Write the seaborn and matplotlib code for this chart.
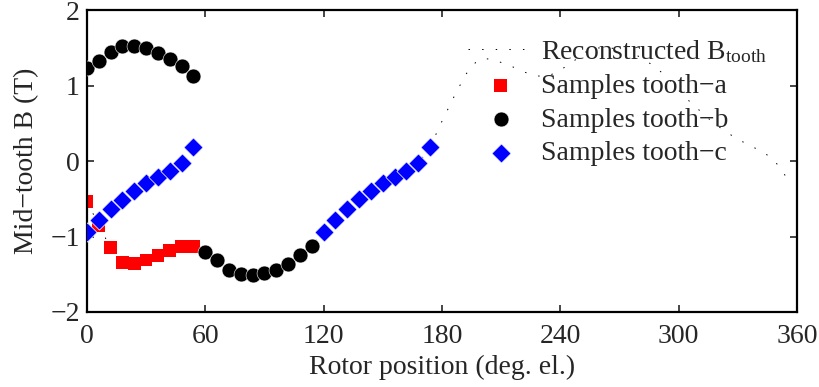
import numpy as np
import pandas as pd
import matplotlib
matplotlib.use("Agg")
import matplotlib.pyplot as plt
import seaborn as sns

# ---- data ----
pos_a = [0, 6, 12, 18, 24, 30, 36, 42, 48, 54]
val_a = [-0.53, -0.85, -1.15, -1.34, -1.36, -1.31, -1.25, -1.18, -1.13, -1.13]

pos_b = [0, 6, 12, 18, 24, 30, 36, 42, 48, 54,
         60, 66, 72, 78, 84, 90, 96, 102, 108, 114]
val_b = [1.23, 1.33, 1.45, 1.53, 1.53, 1.50, 1.44, 1.36, 1.26, 1.13,
         -1.21, -1.31, -1.44, -1.50, -1.51, -1.48, -1.44, -1.36, -1.25, -1.12]

pos_c = [0, 6, 12, 18, 24, 30, 36, 42, 48, 54,
         120, 126, 132, 138, 144, 150, 156, 162, 168, 174]
val_c = [-0.94, -0.78, -0.64, -0.51, -0.40, -0.29, -0.21, -0.13, -0.03, 0.19,
         -0.94, -0.78, -0.64, -0.50, -0.39, -0.29, -0.21, -0.13, -0.03, 0.19]

pos_rec = [0, 6, 12, 18, 24, 30, 36, 42, 48, 54,
           60, 66, 72, 78, 84, 90, 96, 102, 108, 114,
           120, 126, 132, 138, 144, 150, 156, 162, 168, 174,
           180, 186, 192, 198, 204, 210, 216, 222, 228, 234,
           240, 246, 252, 258, 264, 270, 276, 282, 288, 294,
           300, 306, 312, 318, 324, 330, 336, 342, 348, 354]
val_rec = [-0.53, -0.85, -1.15, -1.34, -1.36, -1.31, -1.25, -1.18, -1.13, -1.13,
           -1.21, -1.31, -1.44, -1.50, -1.51, -1.48, -1.44, -1.36, -1.25, -1.12,
           -0.94, -0.78, -0.64, -0.50, -0.39, -0.29, -0.21, -0.13, -0.03, 0.19,
           0.53, 0.85, 1.15, 1.34, 1.36, 1.31, 1.25, 1.18, 1.13, 1.13,
           1.21, 1.31, 1.44, 1.50, 1.51, 1.48, 1.44, 1.36, 1.25, 1.12,
           0.94, 0.78, 0.64, 0.50, 0.39, 0.29, 0.21, 0.13, 0.03, -0.19]

x_ticks = [0, 60, 120, 180, 240, 300, 360]
y_ticks = [-2, -1, 0, 1, 2]
x_label = "Rotor position (deg. el.)"
y_label = "Mid\u2212tooth B (T)"
labels = [r"Reconstructed B$_{\mathrm{tooth}}$",
          "Samples tooth\u2212a", "Samples tooth\u2212b", "Samples tooth\u2212c"]

# ---- style ----
sns.set_theme(style="white")
plt.rcParams["font.family"] = ["Liberation Serif", "DejaVu Serif"]
plt.rcParams["mathtext.fontset"] = "custom"
plt.rcParams["mathtext.rm"] = "Liberation Serif"
plt.rcParams["mathtext.it"] = "Liberation Serif:italic"
plt.rcParams["axes.unicode_minus"] = True

FS = 20
fig = plt.figure(figsize=(8.2, 3.87), dpi=100)
ax = fig.add_axes([0.106, 0.194, 0.866, 0.779])

df_rec = pd.DataFrame({"x": pos_rec, "y": val_rec})
df_a = pd.DataFrame({"x": pos_a, "y": val_a})
df_b = pd.DataFrame({"x": pos_b, "y": val_b})
df_c = pd.DataFrame({"x": pos_c, "y": val_c})

sns.lineplot(data=df_rec, x="x", y="y", ax=ax, color="black", lw=0.7,
             linestyle=(0, (1.5, 12.5)), label=labels[0], zorder=1, sort=False)
sns.scatterplot(data=df_a, x="x", y="y", ax=ax, marker="s", color="#ff0000",
                s=85, edgecolor="none", linewidth=0, label=labels[1], zorder=2)
sns.scatterplot(data=df_b, x="x", y="y", ax=ax, marker="o", color="black",
                s=115, edgecolor="white", linewidth=0.4, label=labels[2], zorder=3)
sns.scatterplot(data=df_c, x="x", y="y", ax=ax, marker="D", color="#0000ff",
                s=95, edgecolor="white", linewidth=0.5, label=labels[3], zorder=4)

ax.set_xlim(0, 360)
ax.set_ylim(-2, 2)
ax.set_xticks(x_ticks)
ax.set_yticks(y_ticks)
ax.set_xticklabels([str(t) for t in x_ticks])
ax.set_yticklabels([str(t).replace("-", "\u2212") for t in y_ticks])
ax.set_xlabel(x_label, fontsize=FS, labelpad=4)
ax.set_ylabel(y_label, fontsize=FS, labelpad=8)
ax.tick_params(axis="both", which="major", direction="in", length=5, width=1.2,
               labelsize=FS, top=True, right=True, bottom=True, left=True)
ax.tick_params(axis="x", pad=9)
ax.tick_params(axis="y", pad=5)
for sp in ax.spines.values():
    sp.set_linewidth(1.6)
    sp.set_color("black")
    sp.set_visible(True)

leg = ax.legend(loc="upper left", bbox_to_anchor=(0.536, 0.908), frameon=False,
                fontsize=FS, handlelength=2.4, handletextpad=0.25,
                labelspacing=0.3, borderpad=0, borderaxespad=0)

fig.savefig("out.png", dpi=100)
